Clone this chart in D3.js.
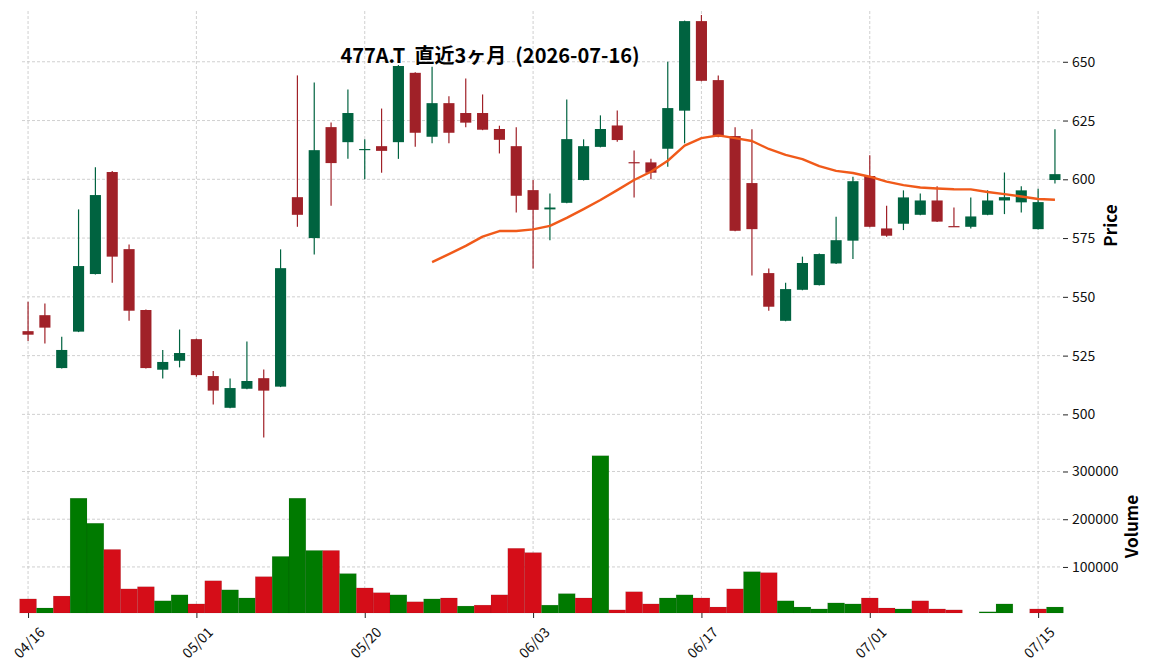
<!DOCTYPE html>
<html>
<head>
<meta charset="utf-8">
<script src="https://cdn.jsdelivr.net/npm/d3@7"></script>
<style>
  body { margin: 0; background: #fff; }
  svg { display: block; font-family: "Noto Sans CJK JP", "Noto Sans", sans-serif; }
</style>
</head>
<body>
<script>
const title = "477A.T  直近3ヶ月  (2026-07-16)";

const dates = ["04/16","04/17","04/20","04/21","04/22","04/23","04/24","04/27","04/28","04/30",
  "05/01","05/07","05/08","05/11","05/12","05/13","05/14","05/15","05/18","05/19",
  "05/20","05/21","05/22","05/25","05/26","05/27","05/28","05/29","06/01","06/02",
  "06/03","06/04","06/05","06/08","06/09","06/10","06/11","06/12","06/15","06/16",
  "06/17","06/18","06/19","06/22","06/23","06/24","06/25","06/26","06/29","06/30",
  "07/01","07/02","07/03","07/06","07/07","07/08","07/09","07/10","07/13","07/14",
  "07/15","07/16"];

const opens = [535.4,542.2,519.7,535.2,559.7,603.1,570.3,544.4,519.0,522.8,
  532.0,516.3,502.8,510.9,515.4,511.8,592.4,575.0,622.2,615.8,
  612.5,614.1,615.8,645.3,618.1,632.4,628.2,628.2,621.4,614.1,
  595.4,587.2,590.0,599.7,613.8,622.9,607.3,607.2,613.0,629.2,
  667.3,642.2,618.4,598.4,560.1,539.8,553.0,555.0,564.2,573.9,
  601.4,579.1,581.1,584.9,591.0,580.1,579.8,584.9,591.0,590.2,
  578.8,599.7];
const highs = [547.9,547.2,533.0,587.2,605.1,603.5,572.3,544.6,527.4,536.1,
  532.2,518.4,515.3,531.0,519.1,570.2,644.2,641.2,624.2,638.2,
  617.0,630.1,648.6,645.5,647.9,635.3,642.9,636.1,622.8,622.1,
  599.7,594.0,634.0,617.0,627.2,629.3,612.3,608.7,650.0,667.5,
  669.9,644.2,622.1,621.3,562.1,556.0,567.1,568.4,584.1,601.1,
  610.2,588.7,595.3,594.0,597.1,588.0,592.3,595.3,602.9,597.1,
  596.0,621.3];
const lows = [531.2,530.2,519.5,535.0,559.5,556.0,539.8,519.5,515.3,520.0,
  516.0,504.2,502.6,510.7,490.2,511.6,579.8,568.0,588.7,608.7,
  600.0,602.8,608.7,613.8,615.3,615.3,622.1,620.9,611.0,585.9,
  562.1,574.1,589.8,599.5,613.6,616.0,592.3,600.0,605.3,615.3,
  641.7,617.9,577.9,559.1,544.1,539.6,552.8,554.8,564.0,566.1,
  579.6,575.6,578.4,584.7,581.8,579.9,579.1,584.7,585.2,585.9,
  578.6,598.2];
const closes = [533.9,536.9,527.4,563.1,593.3,567.1,544.1,519.7,522.3,526.1,
  516.7,510.1,511.2,514.2,510.1,562.2,584.9,612.4,606.9,628.2,
  612.9,612.1,648.2,619.8,632.4,619.8,624.1,621.1,616.8,593.0,
  587.0,588.0,617.1,614.1,621.4,616.7,607.0,602.8,630.3,667.3,
  641.9,618.1,578.1,578.8,545.8,553.3,564.4,568.2,574.1,599.2,
  579.8,576.0,592.3,591.0,582.0,579.9,584.2,591.0,592.4,595.3,
  590.3,602.2];
const volumes = [33000,14000,39000,244000,191500,136600,54000,58500,29000,41500,
  22500,71000,52000,35000,79600,122000,244000,134500,134500,86000,
  56000,46000,41500,27000,33000,35000,18000,20000,41500,139000,
  130000,20000,44000,35000,333000,10000,48000,22500,35000,41500,
  35000,16000,54000,90000,88000,29000,16000,12000,24600,22500,
  35000,14000,12000,29000,12000,10000,0,6000,22500,0,
  12000,16000];
// 25-day moving average (starts at index 24)
const ma25 = [null,null,null,null,null,null,null,null,null,null,
  null,null,null,null,null,null,null,null,null,null,
  null,null,null,null,564.8,568.2,571.7,575.6,578.0,578.0,
  578.7,580.2,583.6,587.3,591.2,595.4,599.7,603.2,607.9,614.3,
  617.5,618.7,617.5,616.3,612.9,610.4,608.6,605.6,603.6,602.7,
  601.1,599.0,597.5,596.5,596.1,595.8,595.7,594.6,593.7,592.7,
  591.6,591.3];

const priceTicks = [500, 525, 550, 575, 600, 625, 650];
const volumeTicks = [100000, 200000, 300000];
const dateTicks = [0, 10, 20, 30, 40, 50, 60];

const W = 1152, H = 670;
const left = 22, right = 1060;
const priceTop = 11, priceBottom = 440, volBottom = 613;

const upColor = "#006340", downColor = "#a02128";
const volUp = "#007a00", volDown = "#d50d18";
const maColor = "#f05a1a";
const gridColor = "#c4c4c4";

const svg = d3.select("body").append("svg")
  .attr("width", W).attr("height", H);

const x = d3.scaleLinear().domain([-0.36, 61.3]).range([left, right]);
const y = d3.scaleLinear().domain([489.1, 671.6]).range([priceBottom, priceTop]);
const yv = d3.scaleLinear().domain([3500, 366000]).range([volBottom, priceBottom]);
const step = x(1) - x(0);

const data = dates.map((d, i) => ({
  i, date: d, o: opens[i], h: highs[i], l: lows[i], c: closes[i],
  v: volumes[i], ma: ma25[i]
}));

// grid
const grid = svg.append("g")
  .attr("stroke", gridColor).attr("stroke-width", 0.8)
  .attr("stroke-dasharray", "3,2");
grid.selectAll(".vg").data(dateTicks).enter().append("line")
  .attr("x1", d => x(d)).attr("x2", d => x(d))
  .attr("y1", priceTop).attr("y2", volBottom);
grid.selectAll(".pg").data(priceTicks).enter().append("line")
  .attr("x1", left).attr("x2", right)
  .attr("y1", d => y(d)).attr("y2", d => y(d));
grid.selectAll(".vog").data(volumeTicks).enter().append("line")
  .attr("x1", left).attr("x2", right)
  .attr("y1", d => yv(d)).attr("y2", d => yv(d));

// volume bars (colour by close vs previous close)
svg.append("g").selectAll("rect").data(data.filter(d => d.v > yv.domain()[0]))
  .enter().append("rect")
  .attr("x", d => x(d.i) - step / 2)
  .attr("width", step)
  .attr("y", d => yv(d.v))
  .attr("height", d => volBottom - yv(d.v))
  .attr("fill", d => {
    const up = d.i === 0 ? d.c >= d.o : d.c >= closes[d.i - 1];
    return up ? volUp : volDown;
  })
  .attr("stroke", "rgba(0,0,0,0.15)")
  .attr("stroke-width", 0.5);

// candles
const bodyW = step * 0.66;
const candles = svg.append("g").selectAll("g").data(data).enter().append("g");
candles.append("line")
  .attr("x1", d => x(d.i)).attr("x2", d => x(d.i))
  .attr("y1", d => y(d.h)).attr("y2", d => y(d.l))
  .attr("stroke", d => d.c >= d.o ? upColor : downColor)
  .attr("stroke-width", 1.2);
candles.append("rect")
  .attr("x", d => x(d.i) - bodyW / 2)
  .attr("width", bodyW)
  .attr("y", d => y(Math.max(d.o, d.c)))
  .attr("height", d => Math.max(1.2, Math.abs(y(d.o) - y(d.c))))
  .attr("fill", d => d.c >= d.o ? upColor : downColor);

// moving average
const line = d3.line()
  .defined(d => d.ma != null)
  .x(d => x(d.i))
  .y(d => y(d.ma));
svg.append("path")
  .datum(data)
  .attr("fill", "none")
  .attr("stroke", maColor)
  .attr("stroke-width", 2.4)
  .attr("stroke-linejoin", "round")
  .attr("d", line);

// axes
const pAxis = svg.append("g")
  .attr("transform", `translate(${right + 3},0)`)
  .call(d3.axisRight(y).tickValues(priceTicks).tickSize(5).tickPadding(4));
const vAxis = svg.append("g")
  .attr("transform", `translate(${right + 3},0)`)
  .call(d3.axisRight(yv).tickValues(volumeTicks).tickFormat(d3.format("d")).tickSize(5).tickPadding(4));
[pAxis, vAxis].forEach(a => {
  a.select(".domain").remove();
  a.selectAll("text").attr("font-size", 14).attr("fill", "#111")
    .style("font-family", "'Noto Sans CJK JP', sans-serif");
  a.selectAll("line").attr("stroke", "#222");
});

const xAxis = svg.append("g")
  .attr("transform", `translate(0,${volBottom})`)
  .call(d3.axisBottom(x).tickValues(dateTicks).tickFormat(i => dates[i]).tickSize(5));
xAxis.select(".domain").remove();
xAxis.selectAll("line").attr("stroke", "#222");
xAxis.selectAll("text")
  .attr("font-size", 14).attr("fill", "#111")
  .style("font-family", "'Noto Sans CJK JP', sans-serif")
  .attr("text-anchor", "middle")
  .attr("dy", null)
  .attr("y", 0)
  .attr("dominant-baseline", "central")
  .attr("transform", "translate(0,29) rotate(-45)");

// labels
svg.append("text")
  .attr("transform", `translate(1117,${(priceTop + priceBottom) / 2}) rotate(-90)`)
  .attr("text-anchor", "middle")
  .attr("font-size", 17).attr("font-weight", "bold")
  .text("Price");
svg.append("text")
  .attr("transform", `translate(1138,${(priceBottom + volBottom) / 2}) rotate(-90)`)
  .attr("text-anchor", "middle")
  .attr("font-size", 17).attr("font-weight", "bold")
  .text("Volume");

svg.append("text")
  .attr("x", 490).attr("y", 63)
  .attr("text-anchor", "middle")
  .attr("font-size", 20).attr("font-weight", "bold")
  .style("white-space", "pre")
  .attr("xml:space", "preserve")
  .text(title);
</script>
</body>
</html>
